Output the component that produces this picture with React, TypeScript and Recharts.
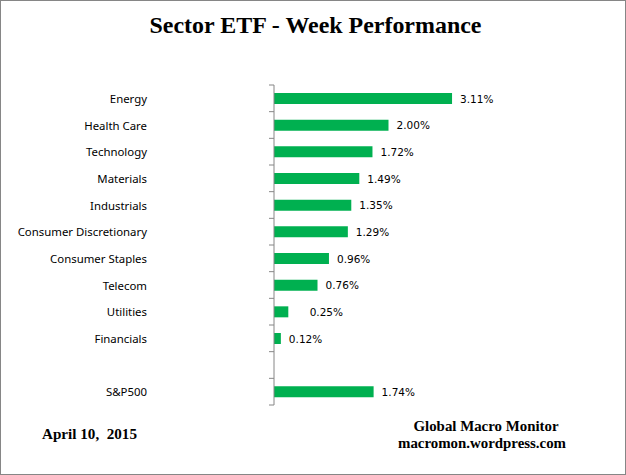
import { BarChart, Bar, XAxis, YAxis, LabelList } from 'recharts';

// sectors, top to bottom; the empty one is the gap before the index
const sectors = [
  'Energy', 'Health Care', 'Technology', 'Materials', 'Industrials',
  'Consumer Discretionary', 'Consumer Staples', 'Telecom', 'Utilities',
  'Financials', '', 'S&P500',
];
const weekReturns = [3.11, 2.0, 1.72, 1.49, 1.35, 1.29, 0.96, 0.76, 0.25, 0.12, null, 1.74];
const returnLabels = [
  '3.11%', '2.00%', '1.72%', '1.49%', '1.35%', '1.29%', '0.96%', '0.76%',
  '    0.25%', '0.12%', '', '1.74%',
];

const W = 626;
const H = 475;
const TOP = 85;
const BOTTOM = 405;
const AXIS_X = 274;
const BAND = (BOTTOM - TOP) / sectors.length;
const GREEN = '#00B050';
const GRAY = '#868686';

const data = sectors.map((name, i) => ({
  name,
  value: weekReturns[i],
  label: returnLabels[i],
}));

function SectorTick(props: any) {
  const { y, payload, index } = props;
  const last = index === sectors.length - 1;
  return (
    <g>
      <text
        x={147}
        y={y}
        textAnchor="end"
        dominantBaseline="central"
        fontFamily="Noto Sans"
        fontSize={11.4}
        fill="#000"
      >
        {payload.value}
      </text>
      <line x1={AXIS_X - 5} x2={AXIS_X} y1={y - BAND / 2} y2={y - BAND / 2} stroke={GRAY} />
      {last && (
        <line x1={AXIS_X - 5} x2={AXIS_X} y1={y + BAND / 2} y2={y + BAND / 2} stroke={GRAY} />
      )}
    </g>
  );
}

function ValueLabel(props: any) {
  const { x, y, width, height, value } = props;
  if (!value) return null;
  return (
    <text
      x={x + width + 8}
      y={y + height / 2}
      dominantBaseline="central"
      fontFamily="DejaVu Sans"
      fontSize={10.5}
      fill="#000"
      style={{ whiteSpace: 'pre' }}
    >
      {value}
    </text>
  );
}

export default function App() {
  return (
    <div style={{ position: 'fixed', left: 0, top: 0, width: W, height: H, background: '#fff' }}>
      <BarChart
        width={W}
        height={H}
        data={data}
        layout="vertical"
        margin={{ top: TOP, right: W - 503, bottom: H - BOTTOM, left: 0 }}
      >
        <XAxis type="number" domain={[0, 4]} hide />
        <YAxis
          type="category"
          dataKey="name"
          width={AXIS_X}
          axisLine={{ stroke: GRAY }}
          tickLine={false}
          tick={<SectorTick />}
          interval={0}
        />
        <Bar dataKey="value" fill={GREEN} barSize={11} isAnimationActive={false}>
          <LabelList dataKey="label" content={<ValueLabel />} />
        </Bar>
      </BarChart>
      <svg
        width={W}
        height={H}
        style={{ position: 'absolute', left: 0, top: 0, pointerEvents: 'none' }}
      >
        <rect x={0.5} y={0.5} width={W - 1} height={H - 1} fill="none" stroke={GRAY} />
        <text
          x={315.5}
          y={32.5}
          textAnchor="middle"
          fontFamily="Liberation Serif"
          fontWeight="bold"
          fontSize={23}
          textLength={332}
          lengthAdjust="spacingAndGlyphs"
        >
          Sector ETF - Week Performance
        </text>
        <text
          x={42}
          y={438.5}
          fontFamily="Liberation Serif"
          fontWeight="bold"
          fontSize={15}
          textLength={95}
          lengthAdjust="spacingAndGlyphs"
          style={{ whiteSpace: 'pre' }}
        >
          April 10,  2015
        </text>
        <text
          x={486}
          y={430.5}
          textAnchor="middle"
          fontFamily="Liberation Serif"
          fontWeight="bold"
          fontSize={14}
          textLength={145}
          lengthAdjust="spacingAndGlyphs"
        >
          Global Macro Monitor
        </text>
        <text
          x={482}
          y={447.5}
          textAnchor="middle"
          fontFamily="Liberation Serif"
          fontWeight="bold"
          fontSize={14}
          textLength={168}
          lengthAdjust="spacingAndGlyphs"
        >
          macromon.wordpress.com
        </text>
      </svg>
    </div>
  );
}
